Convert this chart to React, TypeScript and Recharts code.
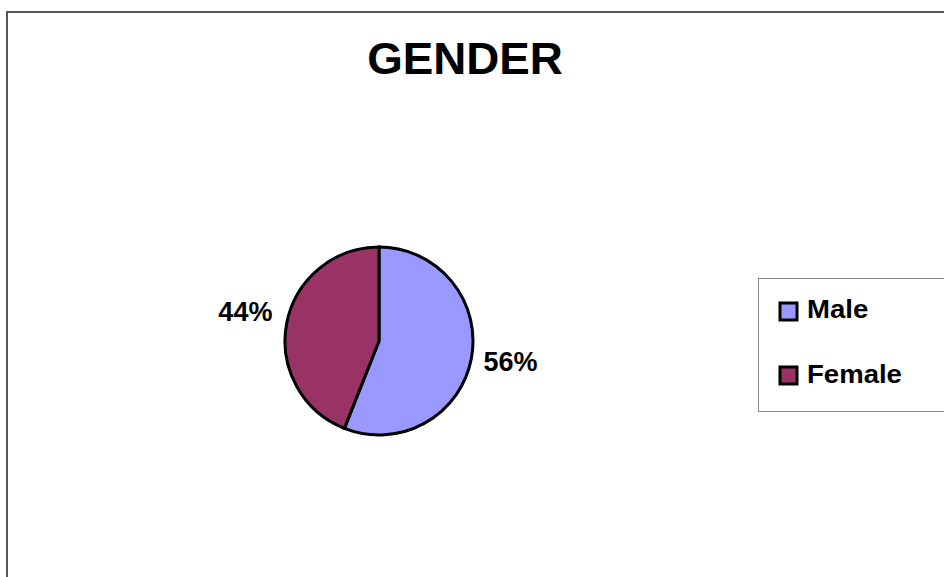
import React from "react";
import { PieChart, Pie, Cell, Legend, Customized } from "recharts";

const categories = ["Male", "Female"];
const values = [56, 44];
const colors = ["#9999FF", "#993366"];
const titleText = "GENDER";

const data = categories.map((name, i) => ({ name, value: values[i] }));

const FONT = '"Liberation Sans", Arial, Helvetica, sans-serif';
const RAD = Math.PI / 180;

const renderLabel = (props: any) => {
  const { cx, cy, midAngle, outerRadius, percent } = props;
  const r = outerRadius + 41;
  const x = cx + r * Math.cos(-midAngle * RAD) - 1;
  const y = cy + r * Math.sin(-midAngle * RAD) - 4;
  return (
    <text
      x={x}
      y={y}
      textAnchor="middle"
      dominantBaseline="central"
      fontFamily={FONT}
      fontWeight="bold"
      fontSize={27}
      fill="#000"
    >
      {`${Math.round(percent * 100)}%`}
    </text>
  );
};

const renderLegend = (props: any) => {
  const payload = [...(props.payload || [])].sort(
    (a: any, b: any) => categories.indexOf(a.value) - categories.indexOf(b.value)
  );
  return (
    <div
      style={{
        width: 200,
        height: 134,
        border: "1px solid #8a8a8a",
        boxSizing: "border-box",
        background: "#fff",
      }}
    >
      <svg width={200} height={132} style={{ display: "block" }}>
        {payload.map((p: any, i: number) => (
          <g key={i}>
            <rect
              x={21}
              y={24 + i * 64}
              width={17}
              height={17}
              fill={p.color}
              stroke="#000"
              strokeWidth={3}
            />
            <text
              x={48}
              y={39 + i * 65}
              fontFamily={FONT}
              fontWeight="bold"
              fontSize={26}
              fill="#000"
              transform={`translate(48 0) scale(1.06 1) translate(-48 0)`}
            >
              {p.value}
            </text>
          </g>
        ))}
      </svg>
    </div>
  );
};

const Title = () => (
  <text
    x={465}
    y={74}
    textAnchor="middle"
    fontFamily={FONT}
    fontWeight="bold"
    fontSize={44}
    fill="#000"
    transform="translate(465 0) scale(1.04 1) translate(-465 0)"
  >
    {titleText}
  </text>
);

export default function App() {
  return (
    <div
      style={{
        position: "fixed",
        left: 0,
        top: 0,
        width: 944,
        height: 577,
        overflow: "hidden",
        background: "#fff",
      }}
    >
      <div
        style={{
          position: "absolute",
          left: 6,
          top: 11,
          width: 1200,
          height: 1200,
          borderTop: "2px solid #555",
          borderLeft: "2px solid #555",
        }}
      />
      <div style={{ position: "absolute", left: 0, top: 0 }}>
        <PieChart width={944} height={577} margin={{ top: 0, right: 0, bottom: 0, left: 0 }}>
          <Customized component={Title} />
          <Pie
            data={data}
            dataKey="value"
            nameKey="name"
            cx={379}
            cy={341}
            outerRadius={94}
            startAngle={90}
            endAngle={-270}
            stroke="#000"
            strokeWidth={3}
            label={renderLabel}
            labelLine={false}
            isAnimationActive={false}
          >
            {data.map((d, i) => (
              <Cell key={d.name} fill={colors[i]} />
            ))}
          </Pie>
          <Legend
            layout="vertical"
            align="right"
            verticalAlign="middle"
            content={renderLegend}
            wrapperStyle={{ position: "absolute", left: 758, top: 278, width: 200, height: 134 }}
          />
        </PieChart>
      </div>
    </div>
  );
}
